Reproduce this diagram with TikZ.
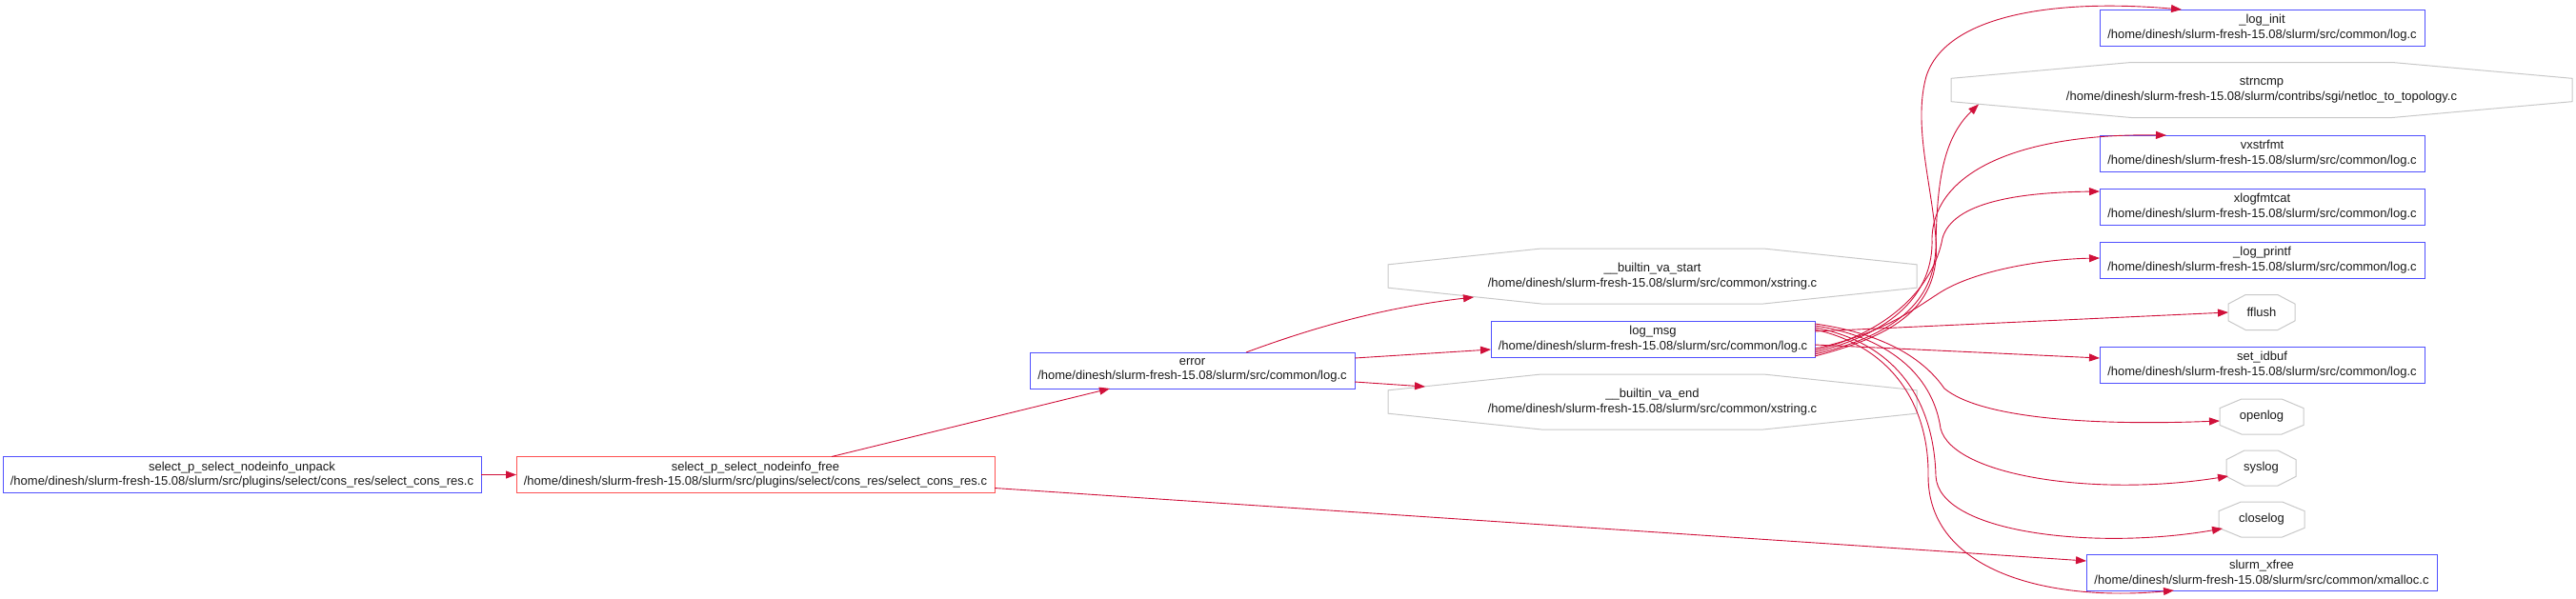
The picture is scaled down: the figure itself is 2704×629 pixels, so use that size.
\documentclass[tikz,border=0pt]{standalone}
\usepackage{fontspec}
\setmainfont{Liberation Sans}
\usetikzlibrary{arrows.meta,calc}
\definecolor{edgec}{RGB}{208,16,58}
\definecolor{boxblue}{RGB}{80,80,255}
\definecolor{boxred}{RGB}{255,80,80}
\definecolor{octgray}{RGB}{200,200,200}
\tikzset{
  lbl/.style={inner sep=0pt, outer sep=0pt, align=center, font=\fontsize{13}{15.5}\selectfont, text=black!90},
  bluebox/.style={lbl, draw=boxblue, line width=0.9pt, minimum height=38pt},
  redbox/.style={lbl, draw=boxred, line width=0.9pt, minimum height=38pt},
  octnode/.style={lbl},
  octline/.style={draw=octgray, line width=1pt},
  edge/.style={draw=edgec, line width=0.9pt, -{Triangle[length=11pt,width=8pt]}},
}
\newcommand{\drawocta}[2]{%
  \draw[octline] ($(#1.north west)!#2!(#1.north east)$) -- ($(#1.north east)!#2!(#1.north west)$)
   -- ($(#1.north east)!#2!(#1.south east)$) -- ($(#1.south east)!#2!(#1.north east)$)
   -- ($(#1.south east)!#2!(#1.south west)$) -- ($(#1.south west)!#2!(#1.south east)$)
   -- ($(#1.south west)!#2!(#1.north west)$) -- ($(#1.north west)!#2!(#1.south west)$) -- cycle;}
\begin{document}
\begin{tikzpicture}[x=1pt,y=-1pt]
\useasboundingbox (0,0) rectangle (2704,629);
% nodes
\node[bluebox, minimum width=502pt] (unpack) at (254,498.5) {select\_p\_select\_nodeinfo\_unpack\\/home/dinesh/slurm-fresh-15.08/slurm/src/plugins/select/cons\_res/select\_cons\_res.c};
\node[redbox, minimum width=502pt] (free) at (793,498.5) {select\_p\_select\_nodeinfo\_free\\/home/dinesh/slurm-fresh-15.08/slurm/src/plugins/select/cons\_res/select\_cons\_res.c};
\node[bluebox, minimum width=341pt] (error) at (1251.5,389) {error\\/home/dinesh/slurm-fresh-15.08/slurm/src/common/log.c};
\node[octnode, minimum width=555pt, minimum height=58pt] (vastart) at (1734.5,290) {\_\_builtin\_va\_start\\/home/dinesh/slurm-fresh-15.08/slurm/src/common/xstring.c};
\drawocta{vastart}{0.29}
\node[bluebox, minimum width=340pt] (logmsg) at (1735,356) {log\_msg\\/home/dinesh/slurm-fresh-15.08/slurm/src/common/log.c};
\node[octnode, minimum width=555pt, minimum height=58pt] (vaend) at (1734.5,422) {\_\_builtin\_va\_end\\/home/dinesh/slurm-fresh-15.08/slurm/src/common/xstring.c};
\drawocta{vaend}{0.29}
\node[bluebox, minimum width=341pt] (loginit) at (2374.5,29) {\_log\_init\\/home/dinesh/slurm-fresh-15.08/slurm/src/common/log.c};
\node[octnode, minimum width=652pt, minimum height=58pt] (strncmp) at (2374,94.5) {strncmp\\/home/dinesh/slurm-fresh-15.08/slurm/contribs/sgi/netloc\_to\_topology.c};
\drawocta{strncmp}{0.29}
\node[bluebox, minimum width=341pt] (vxstrfmt) at (2374.5,161) {vxstrfmt\\/home/dinesh/slurm-fresh-15.08/slurm/src/common/log.c};
\node[bluebox, minimum width=341pt] (xlogfmtcat) at (2374.5,217) {xlogfmtcat\\/home/dinesh/slurm-fresh-15.08/slurm/src/common/log.c};
\node[bluebox, minimum width=341pt] (logprintf) at (2374.5,273) {\_log\_printf\\/home/dinesh/slurm-fresh-15.08/slurm/src/common/log.c};
\node[octnode, minimum width=70pt, minimum height=37pt] (fflush) at (2374,328) {fflush};
\drawocta{fflush}{0.26}
\node[bluebox, minimum width=341pt] (setidbuf) at (2374.5,383) {set\_idbuf\\/home/dinesh/slurm-fresh-15.08/slurm/src/common/log.c};
\node[octnode, minimum width=88pt, minimum height=37pt] (openlog) at (2374,437.5) {openlog};
\drawocta{openlog}{0.26}
\node[octnode, minimum width=73pt, minimum height=37pt] (syslog) at (2373.5,491.5) {syslog};
\drawocta{syslog}{0.26}
\node[octnode, minimum width=90pt, minimum height=37pt] (closelog) at (2374,545.5) {closelog};
\drawocta{closelog}{0.26}
\node[bluebox, minimum width=368pt] (xfree) at (2374,601) {slurm\_xfree\\/home/dinesh/slurm-fresh-15.08/slurm/src/common/xmalloc.c};
% edges
\draw[edge] (unpack.east) -- (free.west);
\draw[edge] ($(free.north west)+(331,0)$) -- ($(error.south west)+(84,0)$);
\draw[edge] ($(free.east)+(0,14)$) -- ($(xfree.west)+(0,-12)$);
\draw[edge] ($(error.north west)+(227,0)$) .. controls (1400,336) and (1470,321) .. ($(vastart.south west)+(90,-7)$);
\draw[edge] ($(error.east)+(0,-13)$) -- ($(logmsg.west)+(0,11)$);
\draw[edge] ($(error.east)+(0,12)$) -- ($(vaend.north west)+(39,13)$);
% from log_msg, upward
\draw[edge] ($(logmsg.east)+(0,18)$) .. controls (1990,352) and (2038,322) .. (2032,250)
  .. controls (2027,190) and (2008,130) .. (2022,80)
  .. controls (2042,18) and (2150,-2) .. ($(loginit.north west)+(86,0)$);
\draw[edge] ($(logmsg.east)+(0,16)$) .. controls (1988,352) and (2030,318) .. (2032,260)
  .. controls (2033,190) and (2040,145) .. ($(strncmp.south west)+(29,-14)$);
\draw[edge] ($(logmsg.east)+(0,14)$) .. controls (1985,350) and (2030,310) .. (2028,250)
  .. controls (2030,180) and (2120,140) .. ($(vxstrfmt.north west)+(70,0)$);
\draw[edge] ($(logmsg.east)+(0,12)$) .. controls (1985,348) and (2030,300) .. (2039,250)
  .. controls (2050,212) and (2120,202) .. ($(xlogfmtcat.north west)+(0,3)$);
\draw[edge] ($(logmsg.east)+(0,10)$) .. controls (1980,350) and (2015,320) .. (2040,305)
  .. controls (2080,282) and (2150,272) .. ($(logprintf.west)+(0,-2)$);
% straight ones
\draw[edge] ($(logmsg.east)+(0,-8)$) -- (fflush.west);
\draw[edge] ($(logmsg.east)+(0,6)$) -- ($(setidbuf.west)+(0,-7)$);
% downward
\draw[edge] ($(logmsg.east)+(0,-16)$) .. controls (1990,352) and (2025,385) .. (2041,408)
  .. controls (2080,440) and (2200,447) .. ($(openlog.west)+(0,4.5)$);
\draw[edge] ($(logmsg.east)+(0,-14)$) .. controls (1990,355) and (2030,400) .. (2037,450)
  .. controls (2050,500) and (2200,522) .. ($(syslog.west)+(2,8.5)$);
\draw[edge] ($(logmsg.east)+(0,-12)$) .. controls (1990,360) and (2030,420) .. (2032,500)
  .. controls (2035,560) and (2200,578) .. ($(closelog.west)+(4,9.5)$);
\draw[edge] ($(logmsg.east)+(0,-10)$) .. controls (1990,365) and (2025,430) .. (2024,500)
  .. controls (2024,600) and (2150,632) .. ($(xfree.south west)+(92,0)$);
\end{tikzpicture}
\end{document}
